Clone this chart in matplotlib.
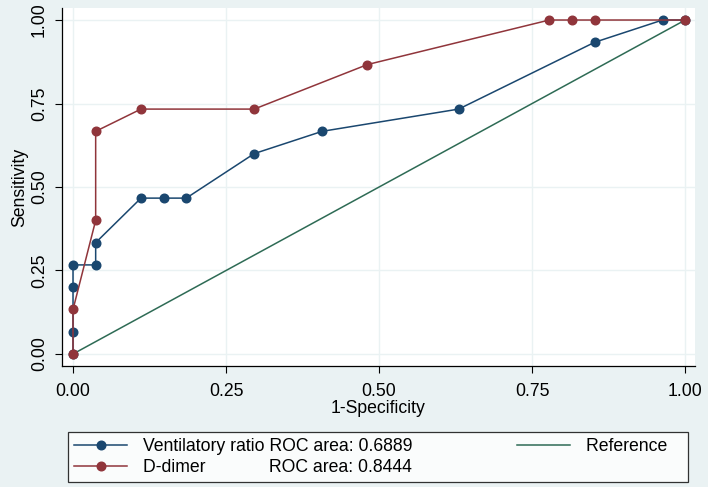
import matplotlib.pyplot as plt

plt.rcParams['font.family'] = ['Liberation Sans', 'DejaVu Sans']

# ROC coordinates (1-specificity, sensitivity)
vr_fpr = [0, 0, 0, 0, 0.037, 0.037, 0.111, 0.148, 0.185, 0.296, 0.407, 0.630, 0.852, 0.963, 1.0]
vr_tpr = [0, 0.0667, 0.2, 0.2667, 0.2667, 0.3333, 0.4667, 0.4667, 0.4667, 0.6, 0.6667, 0.7333, 0.9333, 1.0, 1.0]
dd_fpr = [0, 0, 0.037, 0.037, 0.111, 0.296, 0.481, 0.778, 0.815, 0.852, 1.0]
dd_tpr = [0, 0.1333, 0.4, 0.6667, 0.7333, 0.7333, 0.8667, 1.0, 1.0, 1.0, 1.0]
ref_x = [0, 1]
ref_y = [0, 1]
ticks = [0, 0.25, 0.5, 0.75, 1.0]
tick_labels = ['0.00', '0.25', '0.50', '0.75', '1.00']
labels = ['Ventilatory ratio ROC area: 0.6889',
          'D-dimer' + ' ' * 13 + 'ROC area: 0.8444',
          'Reference   ']

bg = '#EAF2F3'
blue = '#1A476F'
red = '#90353B'
green = '#2E6B55'
fs = 12.7

W, H = 708, 487
fig = plt.figure(figsize=(W / 100, H / 100), dpi=100, facecolor=bg)
ax = fig.add_axes([62 / W, 1 - 366 / H, (695 - 62) / W, (366 - 8) / H])
ax.set_facecolor('white')

h1, = ax.plot(vr_fpr, vr_tpr, color=blue, lw=1.1, marker='o', ms=6.2, zorder=3)
h2, = ax.plot(dd_fpr, dd_tpr, color=red, lw=1.1, marker='o', ms=6.2, zorder=3)
h3, = ax.plot(ref_x, ref_y, color=green, lw=1.1, zorder=2)

ax.set_xlim(-0.018, 1.016)
ax.set_ylim(-0.036, 1.036)
ax.set_xticks(ticks)
ax.set_xticklabels(tick_labels)
ax.set_yticks(ticks)
ax.set_yticklabels(tick_labels, rotation=90, va='center')
ax.tick_params(labelsize=fs, length=5, width=0.8, direction='out')
ax.tick_params(axis='x', pad=7)
ax.tick_params(axis='y', pad=5)
ax.grid(True, color=bg, lw=1.0)
ax.set_axisbelow(True)
for s in ['top', 'right']:
    ax.spines[s].set_visible(False)
for s in ['left', 'bottom']:
    ax.spines[s].set_linewidth(0.9)

ax.set_xlabel('1-Specificity', fontsize=fs, labelpad=0)
ax.set_ylabel('Sensitivity', fontsize=fs, labelpad=2)

blank, = ax.plot([], [], alpha=0)
leg = fig.legend([h1, h2, h3, blank], labels + [''], ncol=2, fontsize=fs,
                 loc='lower left', mode='expand', frameon=True,
                 bbox_to_anchor=(68 / W, 1 - 482 / H, (688 - 68) / W, (482 - 425) / H),
                 borderaxespad=0, borderpad=0.35, handlelength=3.0,
                 handletextpad=0.9, labelspacing=0.2, fancybox=False)
leg.get_frame().set_edgecolor('black')
leg.get_frame().set_linewidth(0.9)

fig.savefig('out.png', dpi=100, facecolor=bg)
